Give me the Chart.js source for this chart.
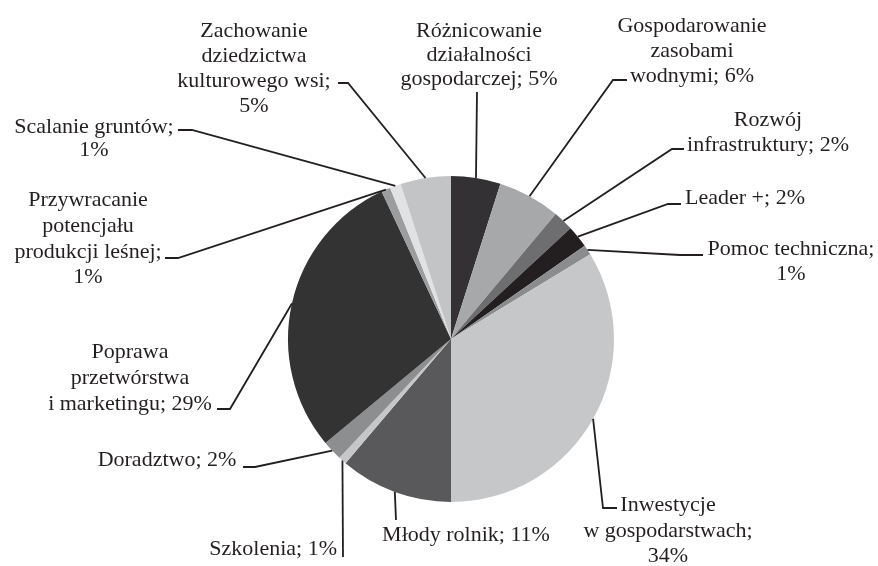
<!DOCTYPE html>
<html>
<head>
<meta charset="utf-8">
<script src="https://cdn.jsdelivr.net/npm/chart.js@4"></script>
<style>
  html, body { margin: 0; padding: 0; background: #fff; }
  #wrap { width: 878px; height: 566px; }
</style>
</head>
<body>
<div id="wrap"><canvas id="chart" width="878" height="566"></canvas></div>
<script>
// slice names, clockwise from 12 o'clock
const categories = [
  'Różnicowanie działalności gospodarczej',
  'Gospodarowanie zasobami wodnymi',
  'Rozwój infrastruktury',
  'Leader +',
  'Pomoc techniczna',
  'Inwestycje w gospodarstwach',
  'Młody rolnik',
  'Szkolenia',
  'Doradztwo',
  'Poprawa przetwórstwa i marketingu',
  'Przywracanie potencjału produkcji leśnej',
  'Scalanie gruntów',
  'Zachowanie dziedzictwa kulturowego wsi'
];

// share of each slice in %
const shares = [4.9, 6.2, 2.0, 2.2, 1.0, 33.7, 11.2, 0.8, 2.0, 29.0, 0.9, 1.1, 5.0];

// how each label is broken into lines (the "; N%" part is appended from shares)
const labelLines = [
  ['Różnicowanie', 'działalności', 'gospodarczej;'],
  ['Gospodarowanie', 'zasobami', 'wodnymi;'],
  ['Rozwój', 'infrastruktury;'],
  ['Leader +;'],
  ['Pomoc techniczna;', ''],
  ['Inwestycje', 'w gospodarstwach;', ''],
  ['Młody rolnik;'],
  ['Szkolenia;'],
  ['Doradztwo;'],
  ['Poprawa', 'przetwórstwa', 'i marketingu;'],
  ['Przywracanie', 'potencjału', 'produkcji leśnej;', ''],
  ['Scalanie gruntów;', ''],
  ['Zachowanie', 'dziedzictwa', 'kulturowego wsi;', '']
];

const colors = [
  '#333133', '#a7a8aa', '#6e6e70', '#231f20', '#8b8c8e', '#c6c7c8', '#59595b',
  '#c6c7c8', '#8d8e90', '#333333', '#9c9d9f', '#e1e2e3', '#c3c4c6'
];

// label placement: text x, line centres, alignment, elbow of the leader and end of its dash
const labelLayout = [
  { x: 479, ys: [31, 55, 79], align: 'center', elbow: [477, 92], dash: 477 },
  { x: 692, ys: [26, 51, 76], align: 'center', elbow: [613, 80], dash: 627 },
  { x: 768, ys: [120, 145], align: 'center', elbow: [672, 149], dash: 684 },
  { x: 745, ys: [198], align: 'center', elbow: [668, 204], dash: 681 },
  { x: 791, ys: [249, 274], align: 'center', elbow: [680, 255], dash: 703 },
  { x: 668, ys: [505, 531, 556], align: 'center', elbow: [603, 508], dash: 617 },
  { x: 466, ys: [535], align: 'center', elbow: [396, 520], dash: 396 },
  { x: 337, ys: [549], align: 'right', elbow: [343, 557], dash: 343 },
  { x: 167, ys: [460], align: 'center', elbow: [255, 467], dash: 243 },
  { x: 130, ys: [352, 378, 404], align: 'center', elbow: [230, 409], dash: 217 },
  { x: 88, ys: [200, 226, 252, 277], align: 'center', elbow: [178, 258], dash: 165 },
  { x: 94, ys: [127, 150], align: 'center', elbow: [192, 130], dash: 178 },
  { x: 254, ys: [31, 56, 81, 106], align: 'center', elbow: [348, 83], dash: 338 }
];

function labelText(i) {
  const pct = Math.round(shares[i]) + '%';
  const lines = labelLines[i].slice();
  const last = lines.length - 1;
  if (lines[last] === '') lines[last] = pct;
  else lines[last] = lines[last] + ' ' + pct;
  return lines;
}

const leaderLabels = {
  id: 'leaderLabels',
  afterDraw(chart) {
    const ctx = chart.ctx;
    const arcs = chart.getDatasetMeta(0).data;
    ctx.save();
    ctx.strokeStyle = '#231f20';
    ctx.lineWidth = 1.8;
    ctx.fillStyle = '#231f20';
    ctx.font = '22px "Liberation Serif", "Times New Roman", serif';
    ctx.textBaseline = 'middle';
    arcs.forEach((arc, i) => {
      const p = arc.getProps(['x', 'y', 'startAngle', 'endAngle', 'outerRadius'], true);
      const mid = (p.startAngle + p.endAngle) / 2;
      const sx = p.x + Math.cos(mid) * p.outerRadius;
      const sy = p.y + Math.sin(mid) * p.outerRadius;
      const L = labelLayout[i];
      ctx.beginPath();
      ctx.moveTo(sx, sy);
      ctx.lineTo(L.elbow[0], L.elbow[1]);
      ctx.lineTo(L.dash, L.elbow[1]);
      ctx.stroke();
      ctx.textAlign = L.align;
      labelText(i).forEach((t, k) => ctx.fillText(t, L.x, L.ys[k]));
    });
    ctx.restore();
  }
};

new Chart(document.getElementById('chart'), {
  type: 'pie',
  data: {
    labels: categories,
    datasets: [{
      data: shares,
      backgroundColor: colors,
      borderWidth: 0
    }]
  },
  options: {
    responsive: false,
    animation: false,
    layout: {
      padding: { left: 200, right: 176, top: 176, bottom: 64 }
    },
    plugins: {
      legend: { display: false },
      tooltip: { enabled: false }
    }
  },
  plugins: [leaderLabels]
});
</script>
</body>
</html>
